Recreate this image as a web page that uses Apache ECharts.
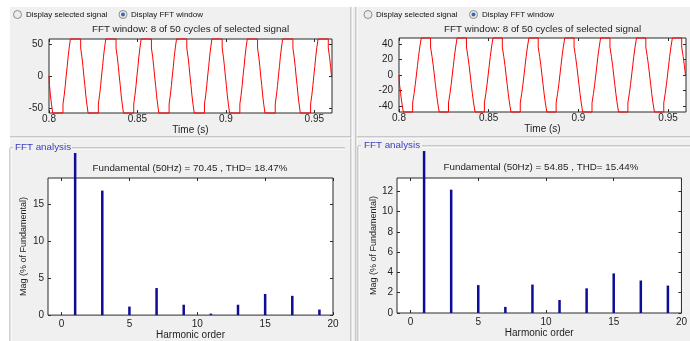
<!DOCTYPE html>
<html>
<head>
<meta charset="utf-8">
<script src="https://cdn.jsdelivr.net/npm/echarts@6/dist/echarts.min.js"></script>
<style>
  html, body { margin: 0; padding: 0; background: #fff; }
  #chart { width: 690px; height: 341px; }
</style>
</head>
<body>
<div id="chart"></div>
<script>
// time window shown on top: 8 cycles of 50 Hz from 0.8 s
const timeTicks = [0.8, 0.85, 0.9, 0.95];
const waveTicksLeft = [-50, 0, 50];
const waveTicksRight = [-40, -20, 0, 20, 40];

// one cycle of the stepped output voltage (phase in s -> level held from there)
const stepPhaseLeft = [0, 0.0003, 0.0008, 0.0014, 0.0021, 0.0079, 0.0086, 0.0092, 0.0097, 0.0103, 0.0108, 0.0114, 0.0121, 0.0179, 0.0186, 0.0192, 0.0197];
const stepLevelLeft = [0, -15, -30, -44, -58, -44, -30, -15, 0, 15, 30, 44, 58, 44, 30, 15, 0];
const stepPhaseRight = [0, 0.0003, 0.0009, 0.0016, 0.0024, 0.0076, 0.0084, 0.0091, 0.0097, 0.0103, 0.0109, 0.0116, 0.0124, 0.0176, 0.0184, 0.0191, 0.0197];
const stepLevelRight = [0, -12, -24, -36, -47.6, -36, -24, -12, 0, 12, 24, 36, 47.6, 36, 24, 12, 0];

// FFT spectrum, % of fundamental
const harmonicOrder = [1, 3, 5, 7, 9, 11, 13, 15, 17, 19];
const magLeft = [100, 16.8, 1.15, 3.65, 1.4, 0.2, 1.4, 2.85, 2.6, 0.75];
const magRight = [100, 12.15, 2.75, 0.6, 2.8, 1.28, 2.43, 3.9, 3.2, 2.7];
const harmonicTicks = [0, 5, 10, 15, 20];
const magTicksLeft = [0, 5, 10, 15];
const magTicksRight = [0, 2, 4, 6, 8, 10, 12];

const titleTop = 'FFT window: 8 of 50 cycles of selected signal';
const titleLeft = 'Fundamental (50Hz) = 70.45 , THD= 18.47%';
const titleRight = 'Fundamental (50Hz) = 54.85 , THD= 15.44%';

const FONT = '"Liberation Sans", Arial, sans-serif';
const TXT = '#1e1e1e';
const BAR = '#0c0c96';

const chart = echarts.init(document.getElementById('chart'));

// repeat the measured cycle over the 8 cycles of the window
function buildWave(phases, levels) {
  const pts = [];
  for (let c = 0; c < 8; c++) {
    for (let i = 0; i < phases.length; i++) pts.push([0.8 + c * 0.02 + phases[i], levels[i]]);
  }
  pts.push([0.96, levels[0]]);
  return pts;
}

function axis(grid, pos, min, max, ticks, labels, extra) {
  return Object.assign({
    type: 'value', gridIndex: grid, position: pos, min: min, max: max,
    axisLine: { show: false, onZero: false },
    splitLine: { show: false },
    axisTick: { show: true, inside: true, length: 3, customValues: ticks, lineStyle: { color: '#2b2b2b' } },
    axisLabel: { show: labels, customValues: ticks, color: TXT, fontSize: 10, fontFamily: FONT, margin: 4,
      formatter: v => String(v) },
    nameTextStyle: { color: TXT, fontSize: 10, fontFamily: FONT }
  }, extra || {});
}

function barSeries(xi, yi, mags, clipTop) {
  return {
    type: 'custom', xAxisIndex: xi, yAxisIndex: yi, clip: false,
    data: harmonicOrder.map((h, i) => [h, mags[i]]),
    renderItem: (params, api) => {
      const base = api.coord([api.value(0), 0]);
      const top = api.coord([api.value(0), api.value(1)]);
      const y = Math.max(top[1], clipTop);
      return { type: 'rect', shape: { x: base[0] - 1.25, y: y, width: 2.5, height: base[1] - y },
        style: { fill: BAR } };
    }
  };
}

const gridStyle = { show: true, backgroundColor: '#fff', borderColor: '#2b2b2b', borderWidth: 1 };

function etched(x1, y1, x2, y2) {
  const vert = x1 === x2;
  return [
    { type: 'line', z: -5, shape: { x1, y1, x2, y2 }, style: { stroke: '#a0a0a0', lineWidth: 1 } },
    { type: 'line', z: -5, shape: vert ? { x1: x1 + 1, y1, x2: x2 + 1, y2 } : { x1, y1: y1 + 1, x2, y2: y2 + 1 },
      style: { stroke: '#ffffff', lineWidth: 1 } }
  ];
}

function radio(cx, cy, on) {
  const els = [{ type: 'circle', z: 10, shape: { cx, cy, r: 4 },
    style: { fill: '#ececec', stroke: '#8c8c8c', lineWidth: 1 } }];
  if (on) els.push({ type: 'circle', z: 11, shape: { cx, cy, r: 2 }, style: { fill: '#2f6db3' } });
  return els;
}

function text(x, y, s, size, color, align, extra) {
  return Object.assign({ type: 'text', z: 20, x: x, y: y,
    style: { text: s, fill: color || TXT, font: size + 'px ' + FONT, align: align || 'center', verticalAlign: 'middle' } },
    extra || {});
}

const graphics = [
  { type: 'rect', z: -10, shape: { x: 10, y: 7, width: 680, height: 334 }, style: { fill: '#f0f0f0' } },
  ...etched(351, 7, 351, 341),
  ...etched(356, 7, 356, 341),
  ...etched(10, 137, 351, 137),
  ...etched(357, 137, 690, 137),
  ...etched(10, 148, 13, 148),
  ...etched(72, 148, 345, 148),
  ...etched(10, 148, 10, 341),
  ...etched(358, 146, 361, 146),
  ...etched(422, 146, 690, 146),
  ...etched(358, 146, 358, 341),
  ...radio(17.5, 14.5, false),
  ...radio(123, 14.5, true),
  ...radio(368, 14.5, false),
  ...radio(473.5, 14.5, true),
  text(26, 14.5, 'Display selected signal', 8, '#111', 'left'),
  text(131, 14.5, 'Display FFT window', 8, '#111', 'left'),
  text(376, 14.5, 'Display selected signal', 8, '#111', 'left'),
  text(482, 14.5, 'Display FFT window', 8, '#111', 'left'),
  text(190.5, 29, titleTop, 9.8),
  text(542.5, 29, titleTop, 9.8),
  text(15, 147.5, 'FFT analysis', 9.8, '#3a3ac4', 'left'),
  text(364, 145.5, 'FFT analysis', 9.8, '#3a3ac4', 'left'),
  text(190, 168, titleLeft, 9.8),
  text(541, 167, titleRight, 9.8)
];

const timeLabel = { show: true, customValues: timeTicks, color: TXT, fontSize: 10, fontFamily: FONT, margin: 1,
  formatter: v => String(v) };
const waveLabel = (ticks) => ({ show: true, customValues: ticks, color: TXT, fontSize: 10, fontFamily: FONT, margin: 6,
  formatter: v => String(v) });

const option = {
  animation: false,
  grid: [
    Object.assign({ left: 49, top: 39, width: 283, height: 74 }, gridStyle),
    Object.assign({ left: 399, top: 38, width: 287, height: 74 }, gridStyle),
    Object.assign({ left: 48, top: 178, width: 285, height: 139 }, gridStyle),
    Object.assign({ left: 397, top: 178, width: 290, height: 135 }, gridStyle)
  ],
  xAxis: [
    axis(0, 'bottom', 0.8, 0.96, timeTicks, true, { name: 'Time (s)', nameLocation: 'middle', nameGap: 12, axisLabel: timeLabel }),
    axis(0, 'top', 0.8, 0.96, timeTicks, false),
    axis(1, 'bottom', 0.8, 0.96, timeTicks, true, { name: 'Time (s)', nameLocation: 'middle', nameGap: 10, axisLabel: timeLabel }),
    axis(1, 'top', 0.8, 0.96, timeTicks, false),
    axis(2, 'bottom', -1, 20, harmonicTicks, true, { name: 'Harmonic order', nameLocation: 'middle', nameGap: 14 }),
    axis(2, 'top', -1, 20, harmonicTicks, false),
    axis(3, 'bottom', -1, 20, harmonicTicks, true, { name: 'Harmonic order', nameLocation: 'middle', nameGap: 14 }),
    axis(3, 'top', -1, 20, harmonicTicks, false)
  ],
  yAxis: [
    axis(0, 'left', -58, 58, waveTicksLeft, true, { axisLabel: waveLabel(waveTicksLeft) }),
    axis(0, 'right', -58, 58, waveTicksLeft, false),
    axis(1, 'left', -47.6, 47.6, waveTicksRight, true, { axisLabel: waveLabel(waveTicksRight) }),
    axis(1, 'right', -47.6, 47.6, waveTicksRight, false),
    axis(2, 'left', 0, 18.5, magTicksLeft, true,
      { name: 'Mag (% of Fundamental)', nameLocation: 'middle', nameGap: 20, nameTextStyle: { color: TXT, fontSize: 9, fontFamily: FONT } }),
    axis(2, 'right', 0, 18.5, magTicksLeft, false),
    axis(3, 'left', 0, 13.3, magTicksRight, true,
      { name: 'Mag (% of Fundamental)', nameLocation: 'middle', nameGap: 19, nameTextStyle: { color: TXT, fontSize: 9, fontFamily: FONT } }),
    axis(3, 'right', 0, 13.3, magTicksRight, false)
  ],
  series: [
    { type: 'line', xAxisIndex: 0, yAxisIndex: 0, step: 'end', showSymbol: false, clip: false,
      data: buildWave(stepPhaseLeft, stepLevelLeft), lineStyle: { color: '#ff0000', width: 1 } },
    { type: 'line', xAxisIndex: 2, yAxisIndex: 2, step: 'end', showSymbol: false, clip: false,
      data: buildWave(stepPhaseRight, stepLevelRight), lineStyle: { color: '#ff0000', width: 1 } },
    barSeries(4, 4, magLeft, 153),
    barSeries(6, 6, magRight, 151)
  ],
  graphic: graphics
};

chart.setOption(option);
</script>
</body>
</html>
